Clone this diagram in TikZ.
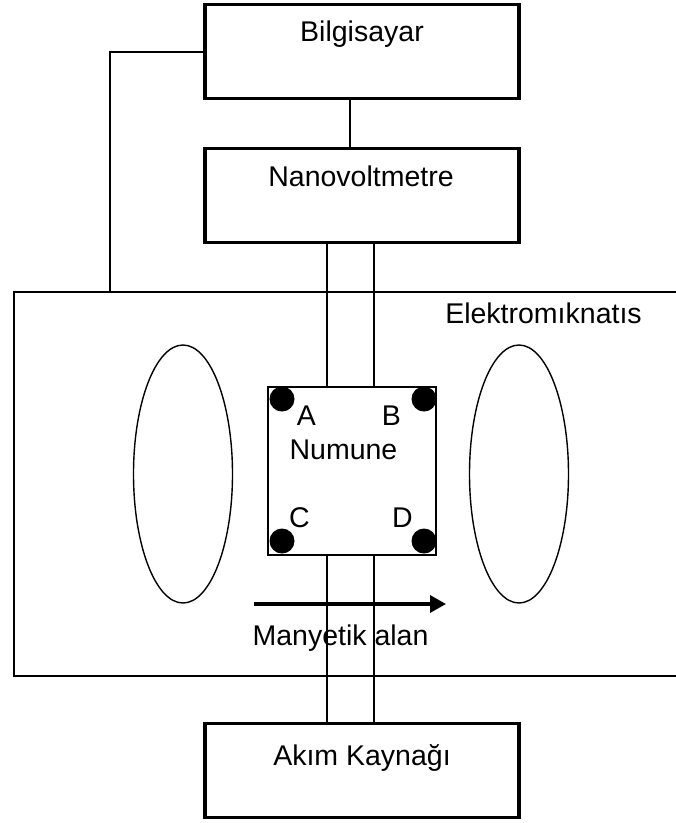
\documentclass[tikz,border=0pt]{standalone}
\usepackage{fontspec}
\setmainfont{Liberation Sans}
\usetikzlibrary{arrows.meta,shapes.geometric}
\begin{document}
\begin{tikzpicture}[x=1pt,y=-1pt,
  device/.style={draw,line width=3.2pt,minimum width=314pt,minimum height=94pt,inner sep=0pt},
  wire/.style={line width=1.4pt},
  lbl/.style={font=\fontsize{28.5}{32}\selectfont,inner sep=0pt,anchor=base},
  pole/.style={draw,line width=1.4pt,ellipse,minimum width=99pt,minimum height=258pt,inner sep=0pt}]
\useasboundingbox (0,0) rectangle (676,823);
\begin{scope}
\clip (0,0) rectangle (676,823);
% electromagnet housing
\draw[line width=1.8pt] (680,292) -| (14,676) -- (680,676);
\coordinate (magtop) at (110,292);
\end{scope}
% coils of the magnet
\node[pole] (coilL) at (183,474) {};
\node[pole] (coilR) at (519,474) {};
% instruments
\node[device] (pc) at (362,51.5) {};
\node[device] (nv) at (362,195.5) {};
\node[device] (src) at (362,770.5) {};
\node[lbl] (pct) at (362,41.7) {Bilgisayar};
\node[lbl] (nvt) at (361,186) {Nanovoltmetre};
\node[lbl] (srct) at (362,765) {Akım Kaynağı};
\node[lbl] (magt) at (543.5,323) {Elektromıknatıs};
% sample with contacts
\node[draw,line width=1.8pt,minimum width=168pt,minimum height=168pt,inner sep=0pt] (smp) at (352,471) {};
\foreach \n/\px/\py in {dA/282/399,dB/424/399,dC/282/541,dD/424/541}
  \fill (\px,\py) circle (12.5pt) coordinate (\n);
\node[lbl] (tA) at (306.5,425) {A};
\node[lbl] (tB) at (391.5,425) {B};
\node[lbl] (tN) at (343.5,459) {Numune};
\node[lbl] (tC) at (299.5,527) {C};
\node[lbl] (tD) at (402.5,527) {D};
% wiring
\draw[wire] (pc.south -| 350,0) -- (nv.north -| 350,0);
\draw[wire] (pc.west |- 0,52) -| (magtop);
\draw[wire] (nv.south -| 327,0) -- (smp.north -| 327,0);
\draw[wire] (nv.south -| 374,0) -- (smp.north -| 374,0);
\draw[wire] (smp.south -| 327,0) -- (src.north -| 327,0);
\draw[wire] (smp.south -| 374,0) -- (src.north -| 374,0);
% field direction
\coordinate (fs) at (254,604);
\coordinate (fe) at (446,604);
\draw[line width=3.3pt,-{Triangle[length=16pt,width=17pt]}] (fs) -- (fe);
\node[lbl] (ft) at (340.5,645) {Manyetik alan};
\end{tikzpicture}
\end{document}
